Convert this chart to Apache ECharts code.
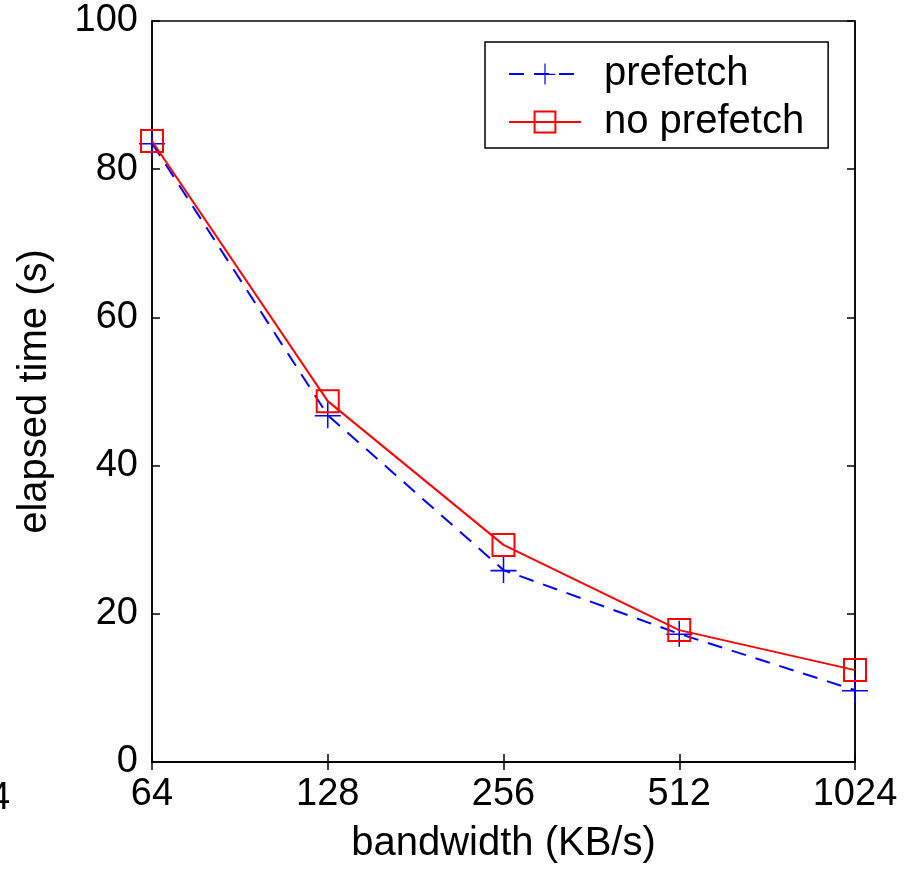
<!DOCTYPE html>
<html>
<head>
<meta charset="utf-8">
<script src="https://cdn.jsdelivr.net/npm/echarts@6/dist/echarts.min.js"></script>
<style>html,body{margin:0;padding:0;background:#fff;}#c{width:917px;height:870px;}</style>
</head>
<body>
<div id="c"></div>
<script>
var categories = ['64', '128', '256', '512', '1024'];
var prefetch = [83.5, 46.8, 25.9, 17.3, 9.7];
var noPrefetch = [83.8, 48.7, 29.3, 17.8, 12.4];
var yTicks = [0, 20, 40, 60, 80, 100];

var FONT = 'Liberation Sans, Arial, Helvetica, sans-serif';
var plusPath = 'path://M0,11.8H24V13.2H0Z M11.3,0H12.7V24H11.3Z';

var chart = echarts.init(document.getElementById('c'), null, {renderer: 'canvas'});
chart.setOption({
  animation: false,
  backgroundColor: '#fff',
  textStyle: {fontFamily: FONT},
  grid: {left: 152, top: 21, right: 62, bottom: 108, show: true, borderColor: '#000', borderWidth: 1.5, backgroundColor: 'transparent'},
  legend: {
    orient: 'vertical', left: 485, top: 42,
    padding: [12, 24, 6, 23],
    itemWidth: 72, itemHeight: 26, itemGap: 8,
    borderColor: '#000', borderWidth: 1.5, backgroundColor: '#fff',
    textStyle: {fontSize: 40, color: '#000', fontFamily: FONT, padding: [0, 0, 0, 18]},
    data: ['prefetch', 'no prefetch']
  },
  xAxis: [{
    type: 'category', data: categories, boundaryGap: false,
    axisLine: {lineStyle: {color: '#000', width: 1.5}},
    axisTick: {inside: true, length: 8, alignWithLabel: true, lineStyle: {color: '#000', width: 1.5}},
    axisLabel: {fontSize: 38, color: '#000', margin: 14, fontFamily: FONT},
    name: 'bandwidth (KB/s)', nameLocation: 'middle', nameGap: 62,
    nameTextStyle: {fontSize: 40, color: '#000', fontFamily: FONT},
    splitLine: {show: false}
  }, {
    type: 'category', data: categories, boundaryGap: false, position: 'top',
    axisLine: {lineStyle: {color: '#000', width: 1.5}},
    axisTick: {inside: true, length: 8, lineStyle: {color: '#000', width: 1.5}},
    axisLabel: {show: false}, splitLine: {show: false}
  }],
  yAxis: [{
    type: 'value', min: 0, max: 100, interval: 20,
    axisLine: {show: true, lineStyle: {color: '#000', width: 1.5}},
    axisTick: {show: true, inside: true, length: 8, lineStyle: {color: '#000', width: 1.5}},
    axisLabel: {fontSize: 38, color: '#000', margin: 14, fontFamily: FONT,
      formatter: function (v) { return yTicks.indexOf(v) >= 0 ? String(v) : ''; }},
    name: 'elapsed time (s)', nameLocation: 'middle', nameGap: 97,
    nameTextStyle: {fontSize: 40, color: '#000', fontFamily: FONT},
    splitLine: {show: false}
  }, {
    type: 'value', min: 0, max: 100, interval: 20, position: 'right',
    axisLine: {show: true, lineStyle: {color: '#000', width: 1.5}},
    axisTick: {show: true, inside: true, length: 8, lineStyle: {color: '#000', width: 1.5}},
    axisLabel: {show: false}, splitLine: {show: false}
  }],
  graphic: [{
    type: 'text', left: -11, top: 780,
    style: {text: '4', fontSize: 38, fill: '#000', fontFamily: FONT}
  }],
  series: [{
    name: 'prefetch', type: 'line', data: prefetch,
    symbol: plusPath, symbolSize: 26, showAllSymbol: true,
    itemStyle: {color: '#0000ff'},
    lineStyle: {color: '#0000ff', width: 2, type: [15, 10]},
    z: 2
  }, {
    name: 'no prefetch', type: 'line', data: noPrefetch,
    symbol: 'rect', symbolSize: 22, showAllSymbol: true,
    itemStyle: {color: 'none', borderColor: '#ff0000', borderWidth: 2},
    lineStyle: {color: '#ff0000', width: 2},
    z: 3
  }]
});
</script>
</body>
</html>
